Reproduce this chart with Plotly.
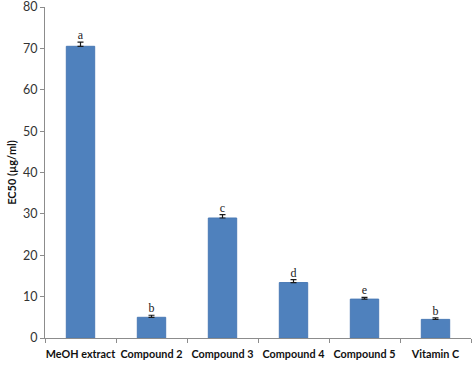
import plotly.graph_objects as go

categories = ["MeOH extract", "Compound 2", "Compound 3", "Compound 4", "Compound 5", "Vitamin C"]
ec50 = [70.5, 5.0, 29.0, 13.4, 9.4, 4.5]
errors = [1.0, 0.5, 0.8, 0.7, 0.4, 0.4]
letters = ["a", "b", "c", "d", "e", "b"]
y_ticks = [0, 10, 20, 30, 40, 50, 60, 70, 80]

fig = go.Figure()
fig.add_trace(go.Bar(
    x=categories, y=ec50, width=0.4,
    marker=dict(color="#4F81BD", line=dict(color="#4A7AB5", width=1)),
    error_y=dict(type="data", array=errors, arrayminus=[0]*len(errors), symmetric=False,
                 color="#1a1a1a", thickness=1.2, width=3),
    showlegend=False,
))
fig.add_trace(go.Scatter(
    x=categories, y=[v + e for v, e in zip(ec50, errors)],
    mode="text", text=letters, textposition="top center",
    textfont=dict(family="Liberation Serif", size=12, color="#222"),
    showlegend=False, cliponaxis=False,
))

axis_color = "#8c8c8c"
fig.update_layout(
    width=472, height=365,
    margin=dict(l=45, r=1, t=7, b=27, autoexpand=False),
    paper_bgcolor="white", plot_bgcolor="white",
    font=dict(family="Lato", color="#222"),
    bargap=0.6,
    xaxis=dict(
        type="category", showgrid=False, showline=True, linecolor=axis_color, linewidth=1,
        ticks="outside", tickson="boundaries", ticklen=4, tickcolor=axis_color,
        tickangle=0, automargin=False, ticklabeloverflow="allow", ticklabelstandoff=6,
        tickfont=dict(family="Lato", size=10.8, color="#111", weight="bold"),
        range=[-0.5, 5.5],
    ),
    yaxis=dict(
        range=[0, 80], tickvals=y_ticks, showgrid=False, zeroline=False,
        showline=True, linecolor=axis_color, linewidth=1,
        ticks="outside", ticklen=4, tickcolor=axis_color, automargin=False,
        ticklabeloverflow="allow",
        tickfont=dict(family="Lato", size=12.5, color="#333"),
        title=dict(text="EC50 (µg/ml)", font=dict(family="Lato", size=11, color="#111", weight="bold"), standoff=4),
    ),
)

fig.write_html("out.html", config={"displayModeBar": False},
               post_script="document.body.style.margin='0';document.body.style.overflow='hidden';")
